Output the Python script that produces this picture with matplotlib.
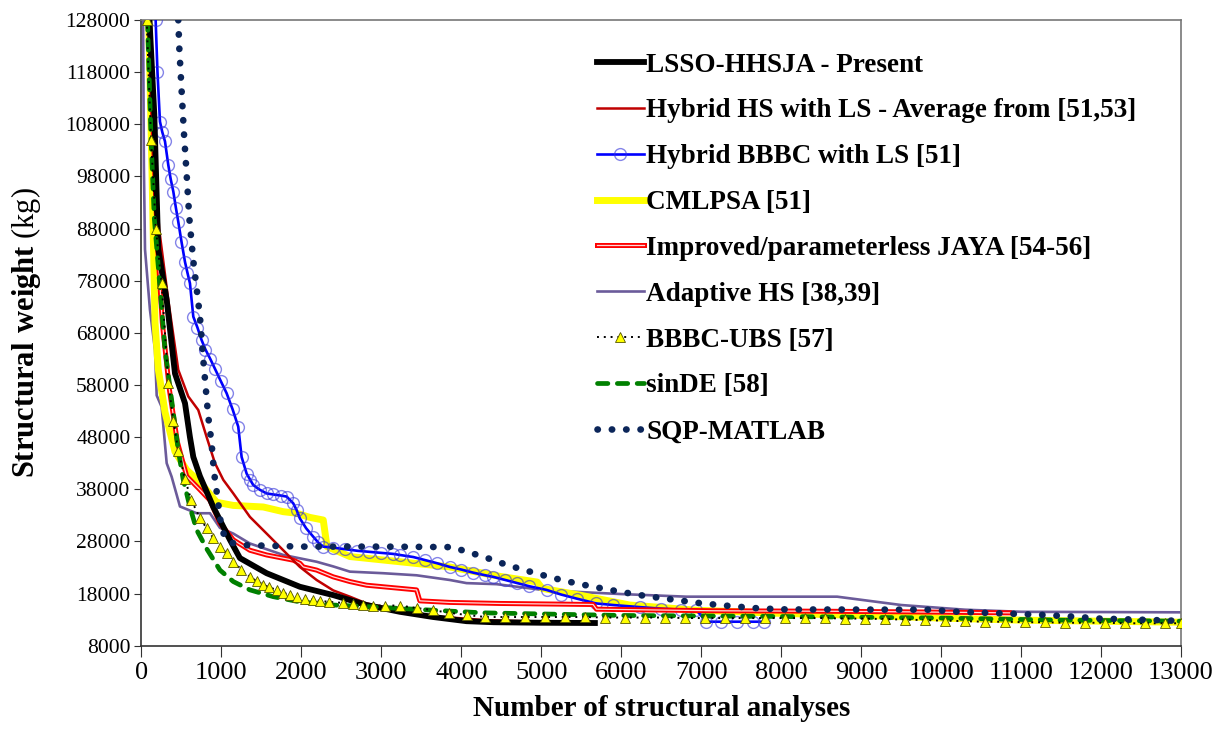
import matplotlib
matplotlib.use('Agg')
import matplotlib.pyplot as plt
import matplotlib.patheffects as pe

plt.rcParams['font.family'] = ['Liberation Serif', 'DejaVu Serif']
plt.rcParams['mathtext.fontset'] = 'custom'
plt.rcParams['mathtext.rm'] = 'Liberation Serif'
plt.rcParams['mathtext.bf'] = 'Liberation Serif:bold'

# LSSO-HHSJA - Present
lsso_x = [100, 160, 210, 315, 419, 544, 606, 648, 731, 898, 1106, 1231, 1565, 1981, 2398,
          2815, 3231, 3648, 4065, 4400, 5000, 5670]
lsso_y = [128000, 110000, 84000, 74300, 60200, 54500, 48000, 44200, 40500, 34600, 28300, 24800,
          21900, 19300, 17700, 15800, 14500, 13500, 12700, 12500, 12400, 12350]

# Hybrid HS with LS - average
hsls_x = [90, 150, 220, 335, 460, 585, 710, 815, 919, 1023, 1148, 1356, 1565, 1773, 1981, 2190,
          2398, 2606, 2815, 3231, 3700, 4300, 5000]
hsls_y = [128000, 108000, 88000, 74300, 60900, 55800, 53200, 48000, 43000, 39800, 37200, 32700,
          29500, 26300, 23100, 20600, 18600, 17400, 16100, 14800, 13600, 12900, 12600]

# Hybrid BBBC with LS
bbbc_x = [177, 200, 231, 260, 294, 335, 365, 398, 430, 460, 500, 544, 575, 606, 648, 700, 752, 800,
          860, 919, 990, 1065, 1140, 1210, 1252, 1315, 1360, 1398, 1480, 1565, 1650, 1740, 1815,
          1898, 1940, 1981, 2060, 2148, 2210, 2273, 2400, 2550, 2700, 2850, 3000, 3150, 3231, 3400,
          3550, 3700, 3856, 4000, 4150, 4300, 4398, 4550, 4700, 4850, 5065, 5250, 5450, 5690, 5900,
          6231, 6500, 6750, 6940, 7065, 7250, 7450, 7650, 7780]
bbbc_y = [128000, 118000, 108500, 106500, 104700, 100200, 97500, 95100, 92000, 89300, 85500, 81600,
          79500, 77500, 71100, 69000, 66600, 64800, 63000, 61100, 58800, 56400, 53300, 50000, 44200,
          41000, 39800, 38800, 37900, 37200, 37000, 36800, 36600, 35300, 34000, 32400, 30500, 28900,
          27800, 27000, 26800, 26500, 26200, 26000, 25800, 25600, 25400, 25000, 24400, 23800, 23100,
          22600, 22000, 21500, 21200, 20600, 20000, 19400, 18700, 17800, 17000, 16100, 15800, 15400,
          15100, 14900, 14800, 12600, 12600, 12600, 12600, 12600]

# CMLPSA
cml_x = [90, 130, 169, 210, 294, 419, 565, 731, 940, 1148, 1523, 1773, 1940, 2106, 2273, 2320,
         2606, 3231, 3856, 4481, 4950, 5010, 5481, 6106, 6940, 8000, 9000, 10000, 11000, 13000]
cml_y = [128000, 100000, 70000, 61000, 52800, 45200, 41700, 39400, 35500, 34900, 34600, 33700,
         33400, 32600, 32100, 27000, 25100, 24100, 23100, 21300, 20200, 19000, 17700, 15800, 14800,
         14200, 13800, 13300, 12900, 12500]

# Improved/parameterless JAYA
jaya_x = [100, 150, 200, 260, 350, 450, 565, 731, 856, 981, 1148, 1356, 1565, 1898, 1981, 2023,
          2190, 2398, 2606, 2815, 3023, 3440, 3481, 3856, 4481, 5648, 5690, 7148, 8606, 9500, 10856]
jaya_y = [128000, 105000, 85000, 70000, 57000, 47000, 40500, 37900, 35900, 31500, 28300, 26300,
          25400, 24400, 23800, 23100, 22500, 21200, 20300, 19600, 19300, 18700, 16600, 16300, 16100,
          15900, 15000, 14700, 14600, 14500, 14300]

# Adaptive HS
ahs_x = [20, 30, 44, 106, 169, 190, 252, 315, 377, 481, 690, 856, 981, 1148, 1356, 1773, 2190,
         2398, 2606, 3023, 3440, 3856, 4065, 4440, 5065, 6000, 6815, 8700, 9500, 10300, 11000, 13000]
ahs_y = [128000, 100000, 84000, 72400, 64700, 56000, 53800, 43000, 40400, 34700, 33400, 33400,
         30600, 29500, 27600, 25400, 24100, 23200, 22200, 21900, 21500, 20600, 20000, 19800, 18600,
         17900, 17400, 17400, 15800, 14900, 14500, 14400]

# BBBC-UBS
ubs_x = [65, 120, 180, 252, 335, 400, 460, 544, 620, 731, 815, 900, 980, 1065, 1148, 1250, 1356,
         1440, 1523, 1600, 1690, 1770, 1856, 1950, 2050, 2150, 2231, 2350, 2523, 2650, 2773, 2900,
         3050, 3231, 3450, 3648, 3850, 4065, 4300, 4550, 4800, 5050, 5300, 5550, 5800, 6050, 6300,
         6550, 6800, 7050, 7300, 7550, 7800, 8050, 8300, 8550, 8800, 9050, 9300, 9550, 9800, 10050,
         10300, 10550, 10800, 11050, 11300, 11550, 11800, 12050, 12300, 12550, 12800, 13000]
ubs_y = [128000, 105000, 88000, 77500, 58400, 51000, 45400, 40000, 36000, 32500, 30500, 28600,
         27000, 25700, 24100, 22600, 21200, 20400, 19700, 19200, 18700, 18200, 17700, 17300, 17000,
         16800, 16600, 16400, 16200, 16000, 15800, 15700, 15700, 15700, 15200, 14800, 14300, 13900,
         13500, 13500, 13500, 13500, 13500, 13500, 13400, 13400, 13400, 13400, 13300, 13300, 13300,
         13300, 13300, 13300, 13300, 13300, 13200, 13200, 13100, 13000, 12900, 12800, 12700, 12600,
         12600, 12500, 12500, 12400, 12400, 12400, 12300, 12300, 12300, 12300]

# sinDE
sde_x = [75, 120, 160, 210, 294, 377, 460, 520, 606, 690, 815, 981, 1148, 1356, 1648, 1981, 2398,
         2815, 3648, 4273, 6000, 8000, 10000, 11500, 13000]
sde_y = [128000, 105000, 90000, 80700, 64700, 55100, 45500, 40000, 34600, 30200, 26600, 22500, 20300,
         18700, 17400, 16400, 15800, 15500, 14800, 14300, 13800, 13600, 13300, 12900, 12700]

# SQP-MATLAB
sqp_x = [460, 473, 502, 531, 565, 598, 648, 690, 731, 773, 802, 835, 877, 906, 960, 1002, 1085, 1252,
         2000, 3000, 3898, 4065, 4252, 4585, 4927, 5273, 5615, 5965, 6315, 6665, 7015, 7365, 7723,
         8073, 9856, 10210, 10565, 10919, 11272, 11627, 11981, 12335, 12690, 12900]
sqp_y = [128000, 122600, 114400, 106300, 98300, 90000, 81800, 76500, 71100, 62800, 57700, 51900,
         46800, 41400, 35300, 30200, 27900, 27300, 27000, 27000, 26900, 26000, 25200, 23400, 21900,
         20500, 19400, 18400, 17500, 16800, 16100, 15600, 15150, 14950, 14900, 14500, 14300, 14100,
         13900, 13600, 13200, 13050, 12900, 12800]

fig = plt.figure(figsize=(12.25, 7.45), dpi=100)
ax = fig.add_axes([0.1155, 0.1333, 0.8486, 0.8399])

ahs, = ax.plot(ahs_x, ahs_y, color='#6B5B9A', lw=1.9, zorder=2, label='Adaptive HS [38,39]')
cml, = ax.plot(cml_x, cml_y, color='#FFFF00', lw=5, zorder=3, label='CMLPSA [51]')
bbbc, = ax.plot(bbbc_x, bbbc_y, color='#0000FF', lw=1.9, marker='o', ms=8.5, mfc='none',
                mec=(0.2, 0.2, 0.85, 0.6), mew=1.0, zorder=4, label='Hybrid BBBC with LS [51]')
jaya, = ax.plot(jaya_x, jaya_y, color='#FFD8D8', lw=0.9, zorder=5,
                path_effects=[pe.Stroke(linewidth=3.6, foreground='#FF0000'), pe.Normal()],
                label='Improved/parameterless JAYA [54-56]')
hsls, = ax.plot(hsls_x, hsls_y, color='#C00000', lw=1.8, zorder=6,
                label='Hybrid HS with LS - Average from [51,53]')
lsso, = ax.plot(lsso_x, lsso_y, color='black', lw=4.2, zorder=7, label='LSSO-HHSJA - Present')
sde, = ax.plot(sde_x, sde_y, color='#008000', lw=3.4, ls=(0, (2.2, 2.0)), dash_capstyle='round',
               zorder=8, label='sinDE [58]')
ubs, = ax.plot(ubs_x, ubs_y, color='black', lw=1.4, ls=(0, (1, 2.5)), marker='^', ms=7.5,
               mfc='#FFFF00', mec='#555500', mew=0.6, zorder=9, label='BBBC-UBS [57]')
sqp, = ax.plot(sqp_x, sqp_y, color='#0B2559', lw=4.8, ls=(0, (0.05, 2.1)), dash_capstyle='round',
               zorder=10, label='SQP-MATLAB')

ax.set_xlim(0, 13000)
ax.set_ylim(8000, 128000)
ax.set_xticks(range(0, 13001, 1000))
ax.set_yticks(range(8000, 128001, 10000))
ax.tick_params(axis='both', direction='out', color='#333333')
ax.tick_params(axis='x', length=8, pad=4, labelsize=19)
ax.tick_params(axis='y', length=5, pad=3, labelsize=15.5)
for s in ['top', 'right']:
    ax.spines[s].set_color('#777777')
for s in ['left', 'bottom']:
    ax.spines[s].set_color('#333333')
for s in ax.spines.values():
    s.set_linewidth(1.2)

ax.set_xlabel('Number of structural analyses', fontsize=21, fontweight='bold', labelpad=8)
ax.set_ylabel(r'$\mathbf{Structural\ weight}$ (kg)', fontsize=22, labelpad=16)

handles = [lsso, hsls, bbbc, cml, jaya, ahs, ubs, sde, sqp]
leg = ax.legend(handles=handles, loc='upper left', bbox_to_anchor=(0.438, 0.948), frameon=False,
                prop={'weight': 'bold', 'size': 19.5}, handlelength=1.73, handletextpad=0.1,
                labelspacing=0.77, borderpad=0, borderaxespad=0)

fig.savefig('out.png', dpi=100)
